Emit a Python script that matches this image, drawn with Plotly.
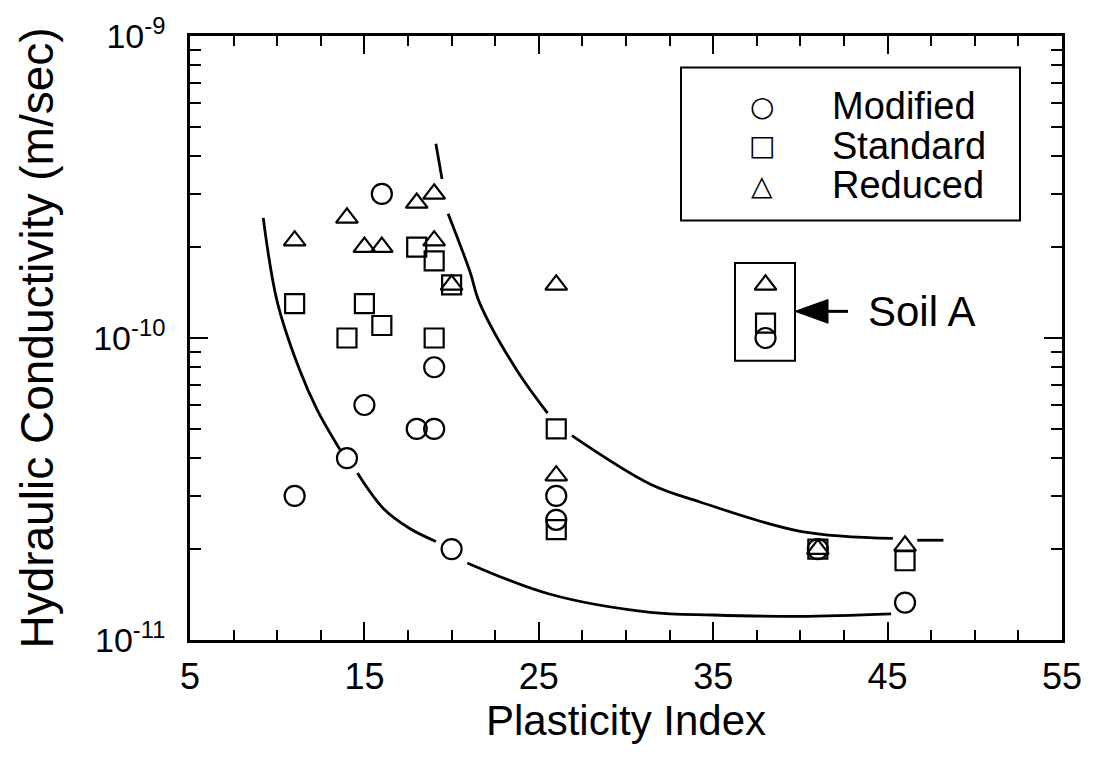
import plotly.graph_objects as go

# ---------------- data ----------------
modified_x = [11, 14, 15, 16, 18, 19, 19, 20, 26, 26, 38, 41, 46]
modified_y = [3.0e-11, 4.0e-11, 6.0e-11, 3.0e-10, 5.0e-11, 5.0e-11, 8.0e-11,
              2.0e-11, 3.0e-11, 2.5e-11, 1.0e-10, 2.0e-11, 1.33e-11]

standard_x = [11, 14, 15, 16, 18, 19, 19, 20, 26, 26, 38, 41, 46]
standard_y = [1.3e-10, 1.0e-10, 1.3e-10, 1.1e-10, 2.0e-10, 1.8e-10, 1.0e-10,
              1.5e-10, 5.0e-11, 2.32e-11, 1.12e-10, 2.0e-11, 1.83e-11]

reduced_x = [11, 14, 15, 16, 18, 19, 19, 20, 26, 26, 38, 41, 46]
reduced_y = [2.1e-10, 2.5e-10, 2.0e-10, 2.0e-10, 2.8e-10, 3.0e-10, 2.1e-10,
             1.5e-10, 1.5e-10, 3.5e-11, 1.5e-10, 2.0e-11, 2.05e-11]

# hand-drawn trend curves (None = gap at a marker)
lower_curve_x = [9.2, 10.0, 11.3, 12.3, 13.6, None,
                 14.6, 16.1, 17.6, 19.1, None,
                 20.9, 25.6, 31.4, 35.0, 40.0, 45.2]
lower_curve_y = [2.5e-10, 1.32e-10, 7.8e-11, 5.77e-11, 4.27e-11, None,
                 3.57e-11, 2.72e-11, 2.34e-11, 2.12e-11, None,
                 1.8e-11, 1.42e-11, 1.235e-11, 1.21e-11, 1.197e-11, 1.22e-11]

upper_curve_x = [19.1, 19.45, None,
                 19.8, 21.05, 21.6, 23.75, 25.5, None,
                 26.9, 31.4, 34.2, 40.0, 45.3, None,
                 46.7, 48.2]
upper_curve_y = [4.4e-10, 3.36e-10, None,
                 2.58e-10, 1.66e-10, 1.31e-10, 7.8e-11, 5.64e-11, None,
                 4.75e-11, 3.28e-11, 2.87e-11, 2.29e-11, 2.17e-11, None,
                 2.14e-11, 2.14e-11]

x_tickvals = [5, 15, 25, 35, 45, 55]
x_ticktext = ["5", "15", "25", "35", "45", "55"]
x_unlabeled_ticks = [10, 20, 30, 40, 50]
y_tickvals = [1e-11, 1e-10, 1e-9]
y_ticktext = ["10<sup>-11</sup>", "10<sup>-10</sup>", "10<sup>-9</sup>"]
y_minorvals = [m * 10.0 ** e for e in (-11, -10) for m in range(2, 10)]

legend_labels = ["Modified", "Standard", "Reduced"]
legend_glyphs = ["\u25cb", "\u25a1", "\u25b3"]
# ---------------------------------------------------------------

FONT = "Liberation Sans, Arial, Helvetica, sans-serif"
L, R, T, B = 190, 38, 28, 120
W, H = 1100, 760
PW, PH = W - L - R, H - T - B


def xp(px):
    return (px - L) / PW


def yp(py):
    return (H - B - py) / PH


fig = go.Figure()

for cx, cy in ((lower_curve_x, lower_curve_y), (upper_curve_x, upper_curve_y)):
    fig.add_trace(go.Scatter(x=cx, y=cy, mode="lines", line=dict(color="black", width=2.8, shape="spline"),
                             connectgaps=False, showlegend=False, hoverinfo="skip"))

for name, xs, ys, sym, size in (("Modified", modified_x, modified_y, "circle-open", 20),
                                ("Standard", standard_x, standard_y, "square-open", 19),
                                ("Reduced", reduced_x, reduced_y, "triangle-up-open", 19)):
    fig.add_trace(go.Scatter(x=xs, y=ys, mode="markers", name=name,
                             marker=dict(symbol=sym, size=size, color="black", line=dict(width=2.2, color="black")),
                             showlegend=False))

shapes = [
    # legend box
    dict(type="rect", xref="paper", yref="paper", x0=xp(681), x1=xp(1020), y0=yp(215), y1=yp(60),
         line=dict(color="black", width=2)),
    # Soil A box
    dict(type="rect", xref="paper", yref="paper", x0=xp(735), x1=xp(795), y0=yp(357), y1=yp(258),
         line=dict(color="black", width=2)),
    # arrow shaft
    dict(type="line", xref="paper", yref="paper", x0=xp(820), x1=xp(848), y0=yp(307), y1=yp(307),
         line=dict(color="black", width=3)),
    # arrow head
    dict(type="path", xref="paper", yref="paper",
         path=f"M {xp(795)},{yp(307)} L {xp(828)},{yp(295)} L {xp(828)},{yp(319)} Z",
         fillcolor="black", line=dict(color="black", width=1)),
]

annotations = [
    dict(text="Soil A", xref="paper", yref="paper", x=xp(866), y=yp(307), xanchor="left", yanchor="middle",
         showarrow=False, font=dict(family=FONT, size=42, color="black")),
]
rows = [99, 139, 179]
for lab, gl, ry in zip(legend_labels, legend_glyphs, rows):
    annotations.append(dict(text=lab, xref="paper", yref="paper", x=xp(830), y=yp(ry), xanchor="left",
                            yanchor="middle", showarrow=False, font=dict(family=FONT, size=38, color="black")))
    annotations.append(dict(text=gl, xref="paper", yref="paper", x=xp(762), y=yp(ry), xanchor="center",
                            yanchor="middle", showarrow=False, font=dict(family="DejaVu Sans", size=28, color="black")))

fig.update_layout(
    width=W, height=H, margin=dict(l=L, r=R, t=T, b=B),
    paper_bgcolor="white", plot_bgcolor="white",
    font=dict(family=FONT, color="black"),
    showlegend=False, shapes=shapes, annotations=annotations,
    xaxis2=dict(overlaying="x", matches="x", range=[5, 55], anchor="y", side="bottom",
                tickmode="array", tickvals=x_unlabeled_ticks, showticklabels=False,
                ticks="inside", ticklen=18, tickwidth=2, tickcolor="black",
                mirror="ticks", showline=False, showgrid=False, zeroline=False),
)

fig.layout.xaxis.update(
    range=[5, 55], tickmode="array", tickvals=x_tickvals, ticktext=x_ticktext,
    ticks="inside", ticklen=18, tickwidth=2, tickcolor="black",
    minor=dict(dtick=2.5, tick0=5, ticks="inside", ticklen=10, tickwidth=2, tickcolor="black"),
    showline=True, linecolor="black", linewidth=2.5, mirror="allticks", showgrid=False, zeroline=False,
    tickfont=dict(family=FONT, size=36), ticklabelstandoff=3,
    title=dict(text="Plasticity Index", font=dict(family=FONT, size=42), standoff=8))

fig.layout.yaxis.update(
    type="log", range=[-11, -9], tickmode="array", tickvals=y_tickvals, ticktext=y_ticktext,
    ticks="inside", ticklen=18, tickwidth=2, tickcolor="black",
    minor=dict(tickvals=y_minorvals, ticks="inside", ticklen=11, tickwidth=2, tickcolor="black"),
    showline=True, linecolor="black", linewidth=2.5, mirror="allticks", showgrid=False, zeroline=False,
    tickfont=dict(family=FONT, size=34), ticklabelstandoff=15,
    title=dict(text="Hydraulic Conductivity (m/sec)", font=dict(family=FONT, size=46), standoff=26))

fig.write_html("out.html")
